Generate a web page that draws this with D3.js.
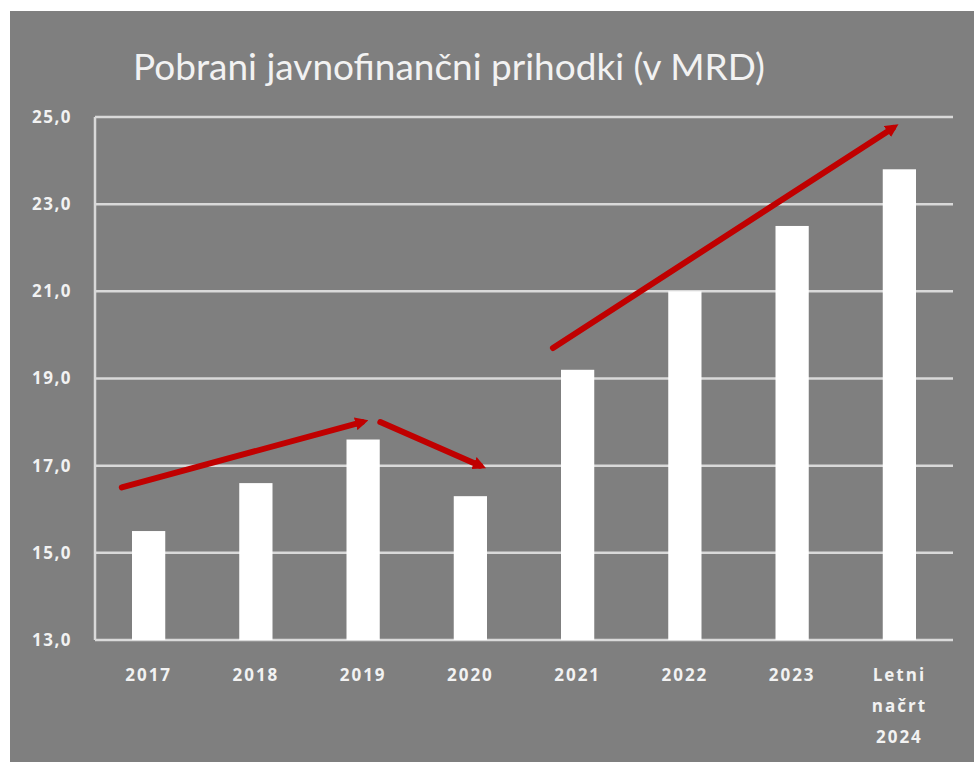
<!DOCTYPE html>
<html>
<head>
<meta charset="utf-8">
<script src="https://cdn.jsdelivr.net/npm/d3@7"></script>
<style>
  body { margin: 0; background: #fff; }
</style>
</head>
<body>
<div id="chart"></div>
<script>
// Data
const categories = ["2017", "2018", "2019", "2020", "2021", "2022", "2023", "Letni načrt 2024"];
const values = [15.5, 16.6, 17.6, 16.3, 19.2, 21.0, 22.5, 23.8];
const yTicks = [13, 15, 17, 19, 21, 23, 25];
// trend arrows: [start index, start value, end index, end value]
const arrows = [
    [-0.25, 16.5, 1.99, 18.0],
    [2.16, 18.0, 3.09, 17.0],
    [3.77, 19.7, 6.94, 24.75]
];

const W = 974, H = 762;
const margin = {top: 117, right: 21, bottom: 122, left: 95},
      width = W - margin.left - margin.right,
      height = H - margin.top - margin.bottom;

const root = d3.select("#chart")
    .append("svg")
    .attr("width", W)
    .attr("height", H);

// gray panel
root.append("rect")
    .attr("x", 10).attr("y", 11)
    .attr("width", W - 10).attr("height", H - 11)
    .attr("fill", "#7f7f7f");

root.append("text")
    .attr("x", 133).attr("y", 80)
    .attr("fill", "#f2f2f2")
    .attr("font-family", "Lato, sans-serif")
    .attr("font-size", 37)
    .attr("textLength", 632)
    .attr("lengthAdjust", "spacingAndGlyphs")
    .text("Pobrani javnofinančni prihodki (v MRD)");

const svg = root.append("g")
    .attr("transform", `translate(${margin.left},${margin.top})`);

const x = d3.scaleBand()
    .domain(categories)
    .range([0, width])
    .paddingInner(0.69)
    .paddingOuter(0.345);
const y = d3.scaleLinear()
    .domain([13, 25])
    .range([height, 0]);

// index scale for arrows (category centres)
const xi = d3.scaleLinear()
    .domain([0, 1])
    .range([x(categories[0]) + x.bandwidth() / 2, x(categories[1]) + x.bandwidth() / 2]);

// gridlines
svg.append("g")
    .selectAll("line")
    .data(yTicks)
    .join("line")
    .attr("x1", 0).attr("x2", width)
    .attr("y1", d => y(d)).attr("y2", d => y(d))
    .attr("stroke", "#d9d9d9")
    .attr("stroke-width", 2.5);

// left axis line
svg.append("line")
    .attr("x1", 0).attr("x2", 0)
    .attr("y1", 0).attr("y2", height)
    .attr("stroke", "#d9d9d9")
    .attr("stroke-width", 2.5);

// y axis labels
const yAxis = svg.append("g")
    .call(d3.axisLeft(y).tickValues(yTicks).tickSize(0).tickPadding(23)
        .tickFormat(d => d3.format(".1f")(d).replace(".", ",")));
yAxis.select(".domain").remove();
yAxis.attr("font-family", "'Open Sans', sans-serif");
yAxis.selectAll("text")
    .attr("fill", "#f2f2f2")
    .attr("font-size", 17)
    .attr("font-weight", "bold")
    .attr("letter-spacing", 1.5);

// bars
svg.selectAll(".bar")
    .data(values)
    .join("rect")
    .attr("class", "bar")
    .attr("x", (d, i) => x(categories[i]))
    .attr("width", x.bandwidth())
    .attr("y", d => y(d))
    .attr("height", d => height - y(d))
    .attr("fill", "#ffffff");

// x labels
const xAxis = svg.append("g")
    .attr("transform", `translate(0,${height})`)
    .call(d3.axisBottom(x).tickSize(0).tickPadding(0));
xAxis.select(".domain").remove();
xAxis.attr("font-family", "'Open Sans', sans-serif");
xAxis.selectAll("text").each(function(d) {
    const t = d3.select(this);
    const words = d.split(" ");
    t.text(null)
        .attr("fill", "#f2f2f2")
        .attr("font-size", 17)
        .attr("font-weight", "bold")
        .attr("letter-spacing", 2)
        .attr("dy", null);
    words.forEach((w, k) => {
        t.append("tspan")
            .attr("x", 0)
            .attr("y", 41 + k * 31)
            .text(w);
    });
});

// arrows
root.append("defs").append("marker")
    .attr("id", "head")
    .attr("viewBox", "0 0 10 10")
    .attr("refX", 5).attr("refY", 5)
    .attr("markerWidth", 2.2).attr("markerHeight", 2.2)
    .attr("orient", "auto")
    .append("path")
    .attr("d", "M0,0 L10,5 L0,10 z")
    .attr("fill", "#c00000");

svg.selectAll(".arrow")
    .data(arrows)
    .join("line")
    .attr("class", "arrow")
    .attr("x1", d => xi(d[0])).attr("y1", d => y(d[1]))
    .attr("x2", d => xi(d[2])).attr("y2", d => y(d[3]))
    .attr("stroke", "#c00000")
    .attr("stroke-width", 6)
    .attr("stroke-linecap", "round")
    .attr("marker-end", "url(#head)");
</script>
</body>
</html>
